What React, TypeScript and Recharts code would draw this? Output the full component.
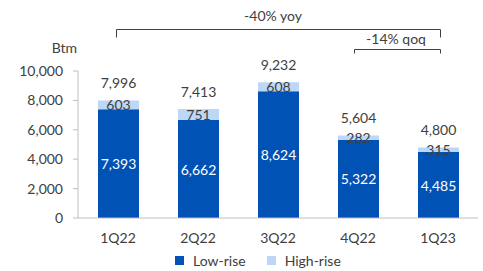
import React from 'react';
import { BarChart, Bar, XAxis, YAxis, LabelList, Legend } from 'recharts';

const categories = ['1Q22', '2Q22', '3Q22', '4Q22', '1Q23'];
const lowRise = [7393, 6662, 8624, 5322, 4485];
const highRise = [603, 751, 608, 282, 315];
const totals = [7996, 7413, 9232, 5604, 4800];
const yTicks = [0, 2000, 4000, 6000, 8000, 10000];
const seriesNames = { low: 'Low-rise', high: 'High-rise' };
const seriesOrder = ['low', 'high'];
const yoyText = '-40% yoy';
const qoqText = '-14% qoq';
const unitText = 'Btm';

const data = categories.map((c, i) => ({ cat: c, low: lowRise[i], high: highRise[i], total: totals[i] }));

const FONT = 'Lato, "DejaVu Sans", sans-serif';
const TEXT = '#404040';
const DARK = '#0152B5';
const LIGHT = '#BDD7F6';
const AXIS = '#BFBFBF';

const fmt = (v: number) => Number(v).toLocaleString('en-US');

const TotalLabel = (props: any) => {
  const { x, y, width, value } = props;
  return (
    <text x={Number(x) + Number(width) / 2} y={Number(y) - 18} textAnchor="middle" dominantBaseline="central"
      fill={TEXT} fontSize={14} fontFamily={FONT}>{fmt(value)}</text>
  );
};

const CenterLabel = (color: string) => (props: any) => {
  const { x, y, width, height, value } = props;
  return (
    <text x={Number(x) + Number(width) / 2} y={Number(y) + Number(height) / 2} textAnchor="middle" dominantBaseline="central"
      fill={color} fontSize={14} fontFamily={FONT}>{fmt(value)}</text>
  );
};

const LegendContent = (props: any) => {
  const payload = [...(props.payload || [])].sort(
    (a: any, b: any) => seriesOrder.indexOf(a.dataKey) - seriesOrder.indexOf(b.dataKey));
  return (
    <div style={{ display: 'flex', alignItems: 'center', paddingLeft: 175, fontFamily: FONT, fontSize: 14, color: TEXT, height: 18 }}>
      {payload.map((p: any, i: number) => (
        <div key={i} style={{ display: 'flex', alignItems: 'center', marginRight: 21 }}>
          <span style={{ display: 'inline-block', width: 9, height: 9, background: p.color, marginRight: 9 }} />
          <span>{p.value}</span>
        </div>
      ))}
    </div>
  );
};

export default function App() {
  return (
    <div style={{ position: 'absolute', left: 0, top: 0, width: 483, height: 271, background: '#fff' }}>
      <BarChart width={483} height={271} data={data} margin={{ top: 71, right: 5, bottom: 23, left: 0 }}
        barSize={41} style={{ fontFamily: FONT }}>
        <XAxis dataKey="cat" height={30} axisLine={{ stroke: AXIS }} tickLine={false} tickSize={6} tickMargin={9}
          tick={{ fill: TEXT, fontSize: 14, fontFamily: FONT }} interval={0} />
        <YAxis domain={[0, 10000]} ticks={yTicks} interval={0} width={78} axisLine={{ stroke: AXIS }} tickLine={{ stroke: AXIS }}
          tickSize={5} tickMargin={10} tickFormatter={fmt} tick={{ fill: TEXT, fontSize: 14, fontFamily: FONT }} />
        <Legend layout="horizontal" verticalAlign="middle" align="center" content={<LegendContent />}
          wrapperStyle={{ position: 'absolute', left: 0, top: 251, width: 483, height: 18 }} />
        <Bar dataKey="low" name={seriesNames.low} stackId="a" fill={DARK} isAnimationActive={false}>
          <LabelList dataKey="low" content={CenterLabel('#FFFFFF')} />
        </Bar>
        <Bar dataKey="high" name={seriesNames.high} stackId="a" fill={LIGHT} isAnimationActive={false}>
          <LabelList dataKey="high" content={CenterLabel(TEXT)} />
          <LabelList dataKey="total" content={TotalLabel} />
        </Bar>
      </BarChart>
      <svg width={483} height={271} style={{ position: 'absolute', left: 0, top: 0, pointerEvents: 'none' }}>
        <g fill="none" stroke={TEXT} strokeWidth={1}>
          <path d="M116.5,37.5 V29.5 H440.5 V37.5" />
          <path d="M354.5,53.5 V49.5 H440.5 V53.5" />
        </g>
        <text x={273} y={15} textAnchor="middle" dominantBaseline="central" fill={TEXT} fontSize={14} fontFamily={FONT}>{yoyText}</text>
        <text x={396} y={38} textAnchor="middle" dominantBaseline="central" fill={TEXT} fontSize={14} fontFamily={FONT}>{qoqText}</text>
        <text x={77} y={47.5} textAnchor="end" dominantBaseline="central" fill={TEXT} fontSize={14} fontFamily={FONT}>{unitText}</text>
      </svg>
    </div>
  );
}
